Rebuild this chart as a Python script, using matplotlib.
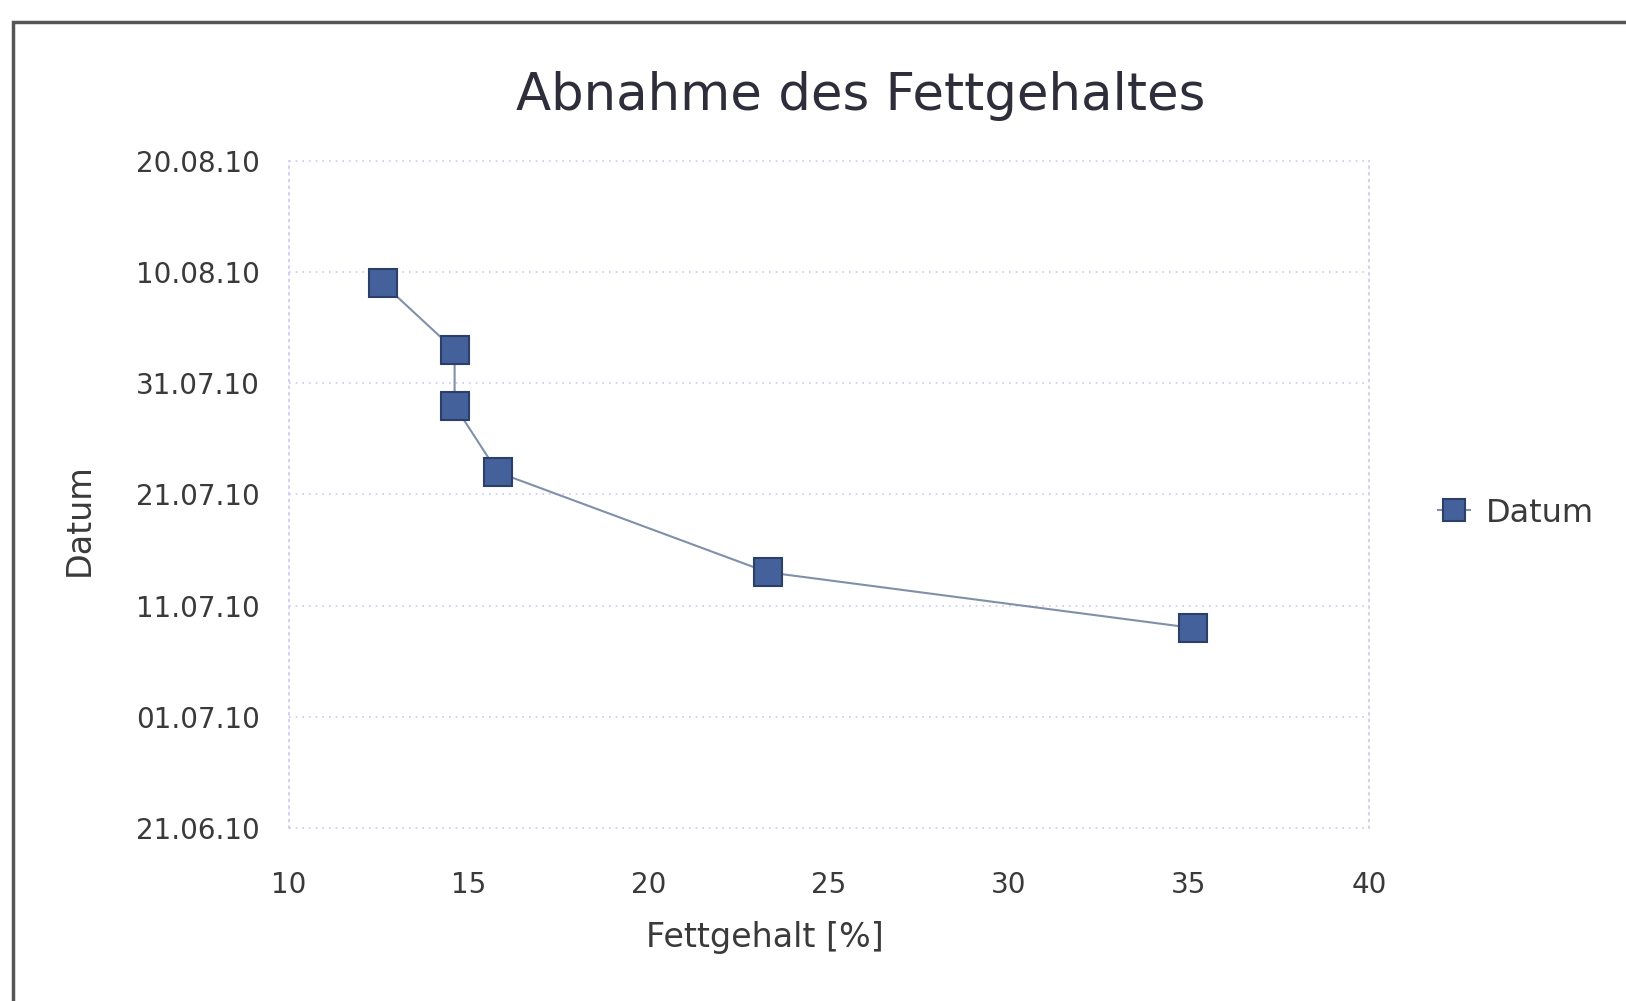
import matplotlib
matplotlib.use("Agg")
import matplotlib.pyplot as plt
import matplotlib.dates as mdates
from matplotlib.patches import Rectangle
from datetime import datetime

# data
fett = [12.6, 14.6, 14.6, 15.8, 23.3, 35.1]
datum = ["09.08.10", "03.08.10", "29.07.10", "23.07.10", "14.07.10", "09.07.10"]
y_ticks = ["21.06.10", "01.07.10", "11.07.10", "21.07.10", "31.07.10", "10.08.10", "20.08.10"]
x_ticks = [10, 15, 20, 25, 30, 35, 40]

def to_num(s):
    return mdates.date2num(datetime.strptime(s, "%d.%m.%y"))

plt.rcParams['font.family'] = ['DejaVu Sans']
txt = '#3a3a3a'
gridc = '#c8c8f2'
dots = (0, (1, 3))

fig = plt.figure(figsize=(16.26, 10.01), dpi=100)
ax = fig.add_axes([289/1626, 1-828/1001, (1369-289)/1626, (828-161)/1001])

y = [to_num(d) for d in datum]
ax.plot(fett, y, color='#8090a8', lw=1.5, marker='s', ms=20,
        mfc='#44619b', mec='#2c3f68', mew=1.5, label='Datum', zorder=3)

ax.set_xlim(10, 40)
ax.set_ylim(to_num(y_ticks[0]), to_num(y_ticks[-1]))
ax.set_xticks(x_ticks)
ax.set_yticks([to_num(d) for d in y_ticks])
ax.yaxis.set_major_formatter(mdates.DateFormatter('%d.%m.%y'))

# only horizontal grid, the sides are dotted too
ax.grid(True, axis='y', color=gridc, linestyle=dots, lw=1.2)
for gl in ax.get_ygridlines():
    gl.set_clip_on(False)
for side in ['top', 'bottom']:
    ax.spines[side].set_visible(False)
for side in ['left', 'right']:
    ax.spines[side].set_color(gridc)
    ax.spines[side].set_linestyle(dots)
    ax.spines[side].set_linewidth(1.2)
ax.tick_params(length=0, labelsize=20, colors=txt)
ax.tick_params(axis='y', pad=21)
ax.tick_params(axis='x', pad=31)

ax.set_xlabel('Fettgehalt [%]', fontsize=24, color=txt)
ax.xaxis.set_label_coords(0.441, -0.140)
ax.set_ylabel('Datum', fontsize=24, color=txt)
ax.yaxis.set_label_coords(-0.179, 0.462)

fig.text(861/1626, 1-96/1001, 'Abnahme des Fettgehaltes', fontsize=37,
         color='#2e2e3a', ha='center', va='center')

fig.legend(loc='center left', bbox_to_anchor=(1438/1626, 1-513/1001),
           frameon=False, borderpad=0, borderaxespad=0, handlelength=1.0,
           handletextpad=0.5, markerscale=0.8, fontsize=23, labelcolor=txt)

# outer frame of the screenshot
fig.patches.append(Rectangle((13/1626, -0.1), 1.2, 1.1 - 22/1001,
                             transform=fig.transFigure, fill=False,
                             ec='#555555', lw=2.5, clip_on=False))

fig.savefig('out.png', dpi=100)
